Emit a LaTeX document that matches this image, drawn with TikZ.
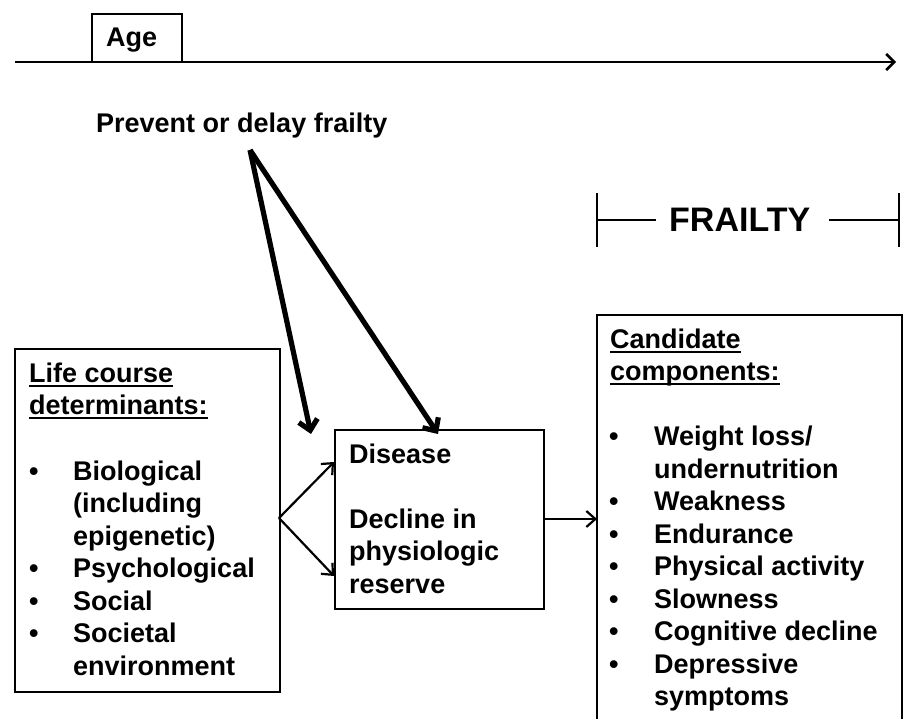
\documentclass[tikz,border=0pt]{standalone}
\usepackage{fontspec}
\setmainfont{Liberation Sans}
\newcommand{\uln}[1]{\setbox0\hbox{#1}\rlap{\rule[-4.6pt]{\wd0}{1.8pt}}\box0}
\usetikzlibrary{arrows.meta}
\begin{document}
\begin{tikzpicture}[x=1pt,y=-1pt,
  txt/.style={anchor=base west,inner sep=0pt,font=\fontsize{27}{32.5}\selectfont\bfseries},
  big/.style={anchor=base west,inner sep=0pt,font=\fontsize{34}{40}\selectfont\bfseries},
  frame/.style={draw,line width=1.9pt,inner sep=0pt,anchor=north west},
  thinarr/.style={line width=2.2pt,-{Straight Barb[length=9pt,width=16pt]}},
  thickarr/.style={line width=5.2pt,-{Straight Barb[length=10pt,width=19pt]}},
  bracket/.style={line width=1.9pt}]
\useasboundingbox (0,0) rectangle (904,719);
\begin{scope}
\clip (0,0) rectangle (904,719);
% age axis
\node[frame,minimum width=90pt,minimum height=48pt] (agebox) at (91,13) {};
\node[txt] (agetxt) at (106,47) {Age};
\coordinate (axs) at (15,62);
\coordinate (axe) at (896,62);
\draw[line width=2.6pt,-{Straight Barb[length=8pt,width=16pt]}] (axs) -- (axe);
% prevent
\node[txt] (prev) at (96,133) {Prevent or delay frailty};
\coordinate (pv) at (250,150);
\coordinate (t1) at (311,434);
\coordinate (t2) at (438,434);
\draw[thickarr] (pv) -- (t1);
\draw[thickarr] (pv) -- (t2);
% frailty bracket
\coordinate (bl1) at (597,193); \coordinate (bl2) at (597,247);
\coordinate (br1) at (899,193); \coordinate (br2) at (899,247);
\coordinate (hl1) at (597,220); \coordinate (hl2) at (656,220);
\coordinate (hr1) at (829,220); \coordinate (hr2) at (899,220);
\draw[bracket] (bl1) -- (bl2);
\draw[bracket] (br1) -- (br2);
\draw[bracket] (hl1) -- (hl2);
\draw[bracket] (hr1) -- (hr2);
\node[big] (frailty) at (669,232) {FRAILTY};
% left box
\node[frame,minimum width=265pt,minimum height=343pt] (left) at (14,348) {};
\node[txt] at (29,382) {\uln{Life course}};
\node[txt] at (29,414.5) {\uln{determinants:}};
\foreach \y in {480,577.5,610,642.5} \node[txt] at (29,\y) {•};
\node[txt] at (73,480) {Biological};
\node[txt] at (73,512.5) {(including};
\node[txt] at (73,545) {epigenetic)};
\node[txt] at (73,577.5) {Psychological};
\node[txt] at (73,610) {Social};
\node[txt] at (73,642.5) {Societal};
\node[txt] at (73,675) {environment};
% middle box
\node[frame,minimum width=209pt,minimum height=179pt] (mid) at (334,429) {};
\node[txt] at (349,463) {Disease};
\node[txt] at (349,528) {Decline in};
\node[txt] at (349,560.5) {physiologic};
\node[txt] at (349,593) {reserve};
% right box
\coordinate (rb1) at (597,730); \coordinate (rb2) at (597,315);
\coordinate (rb3) at (902,315); \coordinate (rb4) at (902,730);
\draw[line width=1.9pt] (rb1) -- (rb2) -- (rb3) -- (rb4);
\node[txt] at (610,348) {\uln{Candidate}};
\node[txt] at (610,380.5) {\uln{components:}};
\foreach \y in {445.5,510.5,543,575.5,608,640.5,673} \node[txt] at (609,\y) {•};
\node[txt] at (654,445.5) {Weight loss/};
\node[txt] at (654,478) {undernutrition};
\node[txt] at (654,510.5) {Weakness};
\node[txt] at (654,543) {Endurance};
\node[txt] at (654,575.5) {Physical activity};
\node[txt] at (654,608) {Slowness};
\node[txt] at (654,640.5) {Cognitive decline};
\node[txt] at (654,673) {Depressive};
\node[txt] at (654,705.5) {symptoms};
% connectors
\coordinate (fork) at (279,518);
\draw[thinarr] (fork) -- (mid.north west |- 0,462);
\draw[thinarr] (fork) -- (mid.north west |- 0,576);
\draw[thinarr] (mid.east |- 0,519) -- (rb2 |- 0,519);
\end{scope}
\end{tikzpicture}
\end{document}
